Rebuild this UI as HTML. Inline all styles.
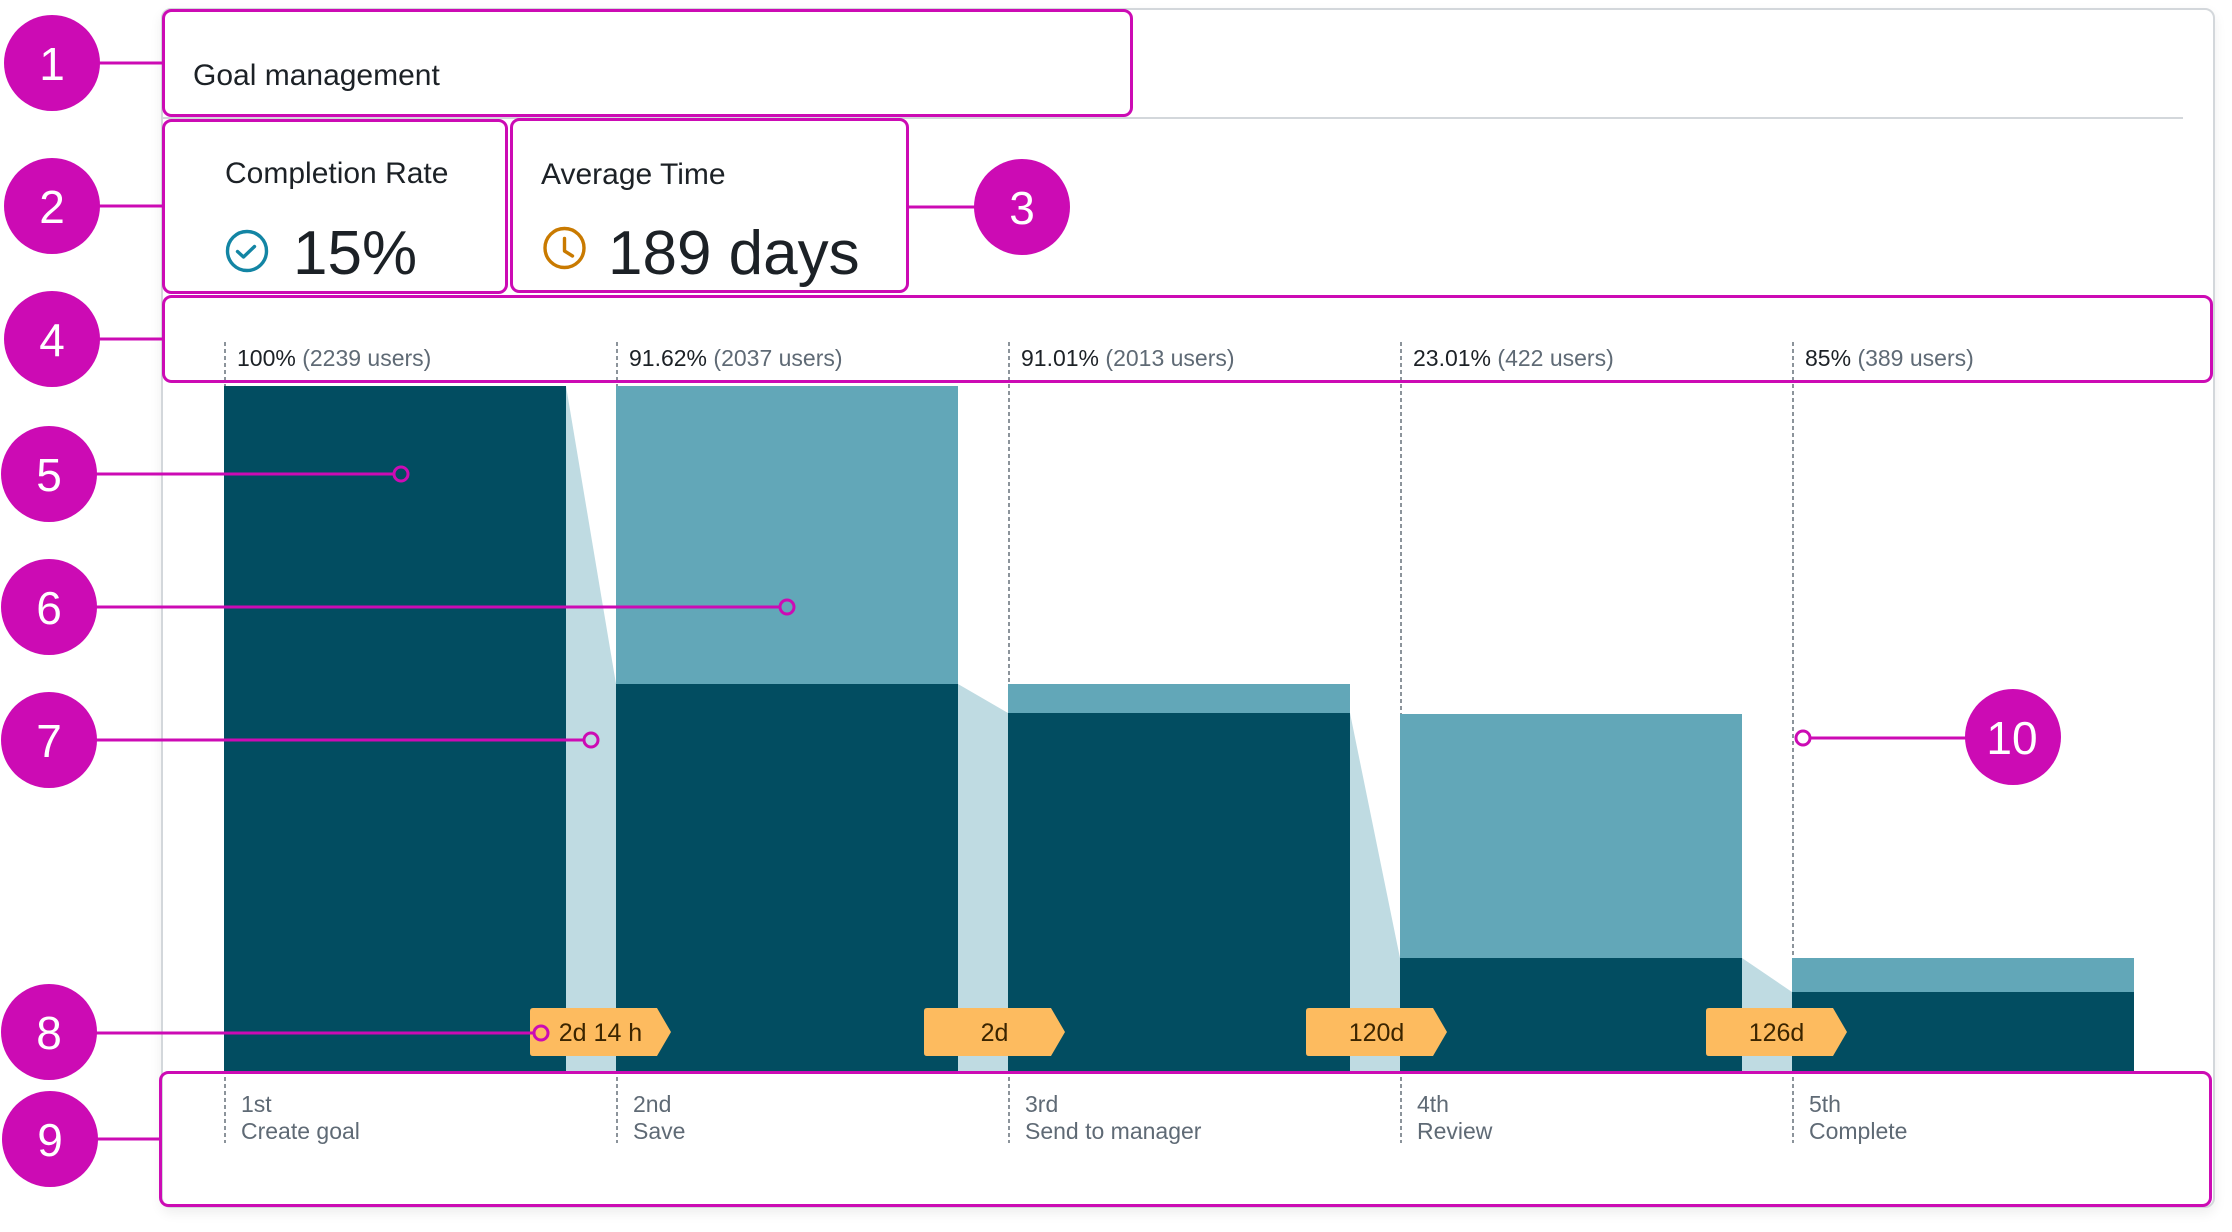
<!DOCTYPE html>
<html>
<head>
<meta charset="utf-8">
<style>
  html, body { margin:0; padding:0; background:#ffffff; }
  body { width:2232px; height:1232px; position:relative; overflow:hidden; font-family:"Liberation Sans", sans-serif; }
  .card { position:absolute; left:161px; top:8px; width:2050px; height:1196px; border:2px solid #d3d7db; border-radius:10px; background:#fff; box-shadow:0 5px 12px rgba(0,0,0,0.07); }
  svg { position:absolute; left:0; top:0; }
</style>
</head>
<body>
<div class="card"></div>
<svg width="2232" height="1232" viewBox="0 0 2232 1232" xmlns="http://www.w3.org/2000/svg" font-family="Liberation Sans, sans-serif">
  <!-- divider -->
  <line x1="163" y1="118" x2="2183" y2="118" stroke="#d3d7db" stroke-width="2"/>

  <!-- header text -->
  <text x="193" y="85" font-size="30" fill="#1c2126">Goal management</text>
  <text x="225" y="183" font-size="30" fill="#1c2126">Completion Rate</text>
  <text x="541" y="184" font-size="30" fill="#1c2126">Average Time</text>

  <!-- check icon -->
  <circle cx="247" cy="251" r="19.5" fill="none" stroke="#1385a4" stroke-width="3.4"/>
  <polyline points="237.5,251.5 243.5,257 254.5,246.5" fill="none" stroke="#1385a4" stroke-width="3.4" stroke-linecap="round" stroke-linejoin="round"/>
  <text x="293" y="274" font-size="62" fill="#1c2126">15%</text>

  <!-- clock icon -->
  <circle cx="564.5" cy="248" r="19.5" fill="none" stroke="#c97a00" stroke-width="3.4"/>
  <polyline points="564.5,238.5 564.5,251 572.5,256" fill="none" stroke="#c97a00" stroke-width="3.4" stroke-linecap="round" stroke-linejoin="round"/>
  <text x="608" y="274" font-size="62" fill="#1c2126">189 days</text>

  <!-- dashed step lines -->
  <g stroke="#8c949b" stroke-width="2" stroke-dasharray="4 3">
    <line x1="225" y1="342" x2="225" y2="1143"/>
    <line x1="617" y1="342" x2="617" y2="1143"/>
    <line x1="1009" y1="342" x2="1009" y2="1143"/>
    <line x1="1401" y1="342" x2="1401" y2="1143"/>
    <line x1="1793" y1="342" x2="1793" y2="1143"/>
  </g>

  <!-- top labels -->
  <g font-size="23" fill="#1c2126">
    <text x="237" y="366">100% <tspan fill="#5f6a75">(2239 users)</tspan></text>
    <text x="629" y="366">91.62% <tspan fill="#5f6a75">(2037 users)</tspan></text>
    <text x="1021" y="366">91.01% <tspan fill="#5f6a75">(2013 users)</tspan></text>
    <text x="1413" y="366">23.01% <tspan fill="#5f6a75">(422 users)</tspan></text>
    <text x="1805" y="366">85% <tspan fill="#5f6a75">(389 users)</tspan></text>
  </g>

  <!-- bars -->
  <g>
    <!-- connectors -->
    <polygon points="566,386 616,684 616,1072 566,1072" fill="#bfdbe2"/>
    <polygon points="958,684 1008,713 1008,1072 958,1072" fill="#bfdbe2"/>
    <polygon points="1350,713 1400,958 1400,1072 1350,1072" fill="#bfdbe2"/>
    <polygon points="1742,958 1792,992 1792,1072 1742,1072" fill="#bfdbe2"/>
    <!-- bar 1 -->
    <rect x="224" y="386" width="342" height="686" fill="#024d61"/>
    <!-- bar 2 -->
    <rect x="616" y="386" width="342" height="298" fill="#62a7b8"/>
    <rect x="616" y="684" width="342" height="388" fill="#024d61"/>
    <!-- bar 3 -->
    <rect x="1008" y="684" width="342" height="29" fill="#62a7b8"/>
    <rect x="1008" y="713" width="342" height="359" fill="#024d61"/>
    <!-- bar 4 -->
    <rect x="1400" y="714" width="342" height="244" fill="#62a7b8"/>
    <rect x="1400" y="958" width="342" height="114" fill="#024d61"/>
    <!-- bar 5 -->
    <rect x="1792" y="958" width="342" height="34" fill="#62a7b8"/>
    <rect x="1792" y="992" width="342" height="80" fill="#024d61"/>
  </g>

  <!-- tags -->
  <g fill="#fdbb5f">
    <path d="M533,1008 H657 L671,1032 L657,1056 H533 Q530,1056 530,1053 V1011 Q530,1008 533,1008 Z"/>
    <path d="M927,1008 H1051 L1065,1032 L1051,1056 H927 Q924,1056 924,1053 V1011 Q924,1008 927,1008 Z"/>
    <path d="M1309,1008 H1433 L1447,1032 L1433,1056 H1309 Q1306,1056 1306,1053 V1011 Q1306,1008 1309,1008 Z"/>
    <path d="M1709,1008 H1833 L1847,1032 L1833,1056 H1709 Q1706,1056 1706,1053 V1011 Q1706,1008 1709,1008 Z"/>
  </g>
  <g font-size="25" fill="#3b2500" text-anchor="middle">
    <text x="600.5" y="1041">2d 14 h</text>
    <text x="994.5" y="1041">2d</text>
    <text x="1376.5" y="1041">120d</text>
    <text x="1776.5" y="1041">126d</text>
  </g>

  <!-- bottom labels -->
  <g font-size="23" fill="#5f6a75">
    <text x="241" y="1112">1st</text><text x="241" y="1139">Create goal</text>
    <text x="633" y="1112">2nd</text><text x="633" y="1139">Save</text>
    <text x="1025" y="1112">3rd</text><text x="1025" y="1139">Send to manager</text>
    <text x="1417" y="1112">4th</text><text x="1417" y="1139">Review</text>
    <text x="1809" y="1112">5th</text><text x="1809" y="1139">Complete</text>
  </g>

  <!-- annotation boxes -->
  <g fill="none" stroke="#cc0bb4" stroke-width="3">
    <rect x="163.5" y="10.5" width="968" height="105" rx="8"/>
    <rect x="163.5" y="120.5" width="343" height="172" rx="8"/>
    <rect x="511.5" y="119.5" width="396" height="172" rx="8"/>
    <rect x="163.5" y="296.5" width="2048" height="85" rx="8"/>
    <rect x="160.5" y="1072.5" width="2050" height="133" rx="8"/>
  </g>

  <!-- annotation leader lines -->
  <g stroke="#cc0bb4" stroke-width="3" fill="none">
    <line x1="52" y1="63" x2="162" y2="63"/>
    <line x1="52" y1="206" x2="162" y2="206"/>
    <line x1="909" y1="207" x2="1022" y2="207"/>
    <line x1="52" y1="339" x2="162" y2="339"/>
    <line x1="49" y1="474" x2="393" y2="474"/>
    <circle cx="401" cy="474" r="7"/>
    <line x1="49" y1="607" x2="779" y2="607"/>
    <circle cx="787" cy="607" r="7"/>
    <line x1="49" y1="740" x2="583" y2="740"/>
    <circle cx="591" cy="740" r="7"/>
    <line x1="49" y1="1033" x2="533" y2="1033"/>
    <circle cx="541" cy="1033" r="7"/>
    <line x1="50" y1="1139" x2="159" y2="1139"/>
    <line x1="1811" y1="738" x2="2013" y2="738"/>
    <circle cx="1803" cy="738" r="7"/>
  </g>

  <!-- annotation circles -->
  <g fill="#cc0bb4">
    <circle cx="52" cy="63" r="48"/>
    <circle cx="52" cy="206" r="48"/>
    <circle cx="1022" cy="207" r="48"/>
    <circle cx="52" cy="339" r="48"/>
    <circle cx="49" cy="474" r="48"/>
    <circle cx="49" cy="607" r="48"/>
    <circle cx="49" cy="740" r="48"/>
    <circle cx="49" cy="1032" r="48"/>
    <circle cx="50" cy="1139" r="48"/>
    <circle cx="2013" cy="737" r="48"/>
  </g>
  <g fill="#ffffff" font-size="46" text-anchor="middle">
    <text x="52" y="80">1</text>
    <text x="52" y="223">2</text>
    <text x="1022" y="224">3</text>
    <text x="52" y="356">4</text>
    <text x="49" y="491">5</text>
    <text x="49" y="624">6</text>
    <text x="49" y="757">7</text>
    <text x="49" y="1049">8</text>
    <text x="50" y="1156">9</text>
    <text x="2012" y="754">10</text>
  </g>
</svg>
</body>
</html>
